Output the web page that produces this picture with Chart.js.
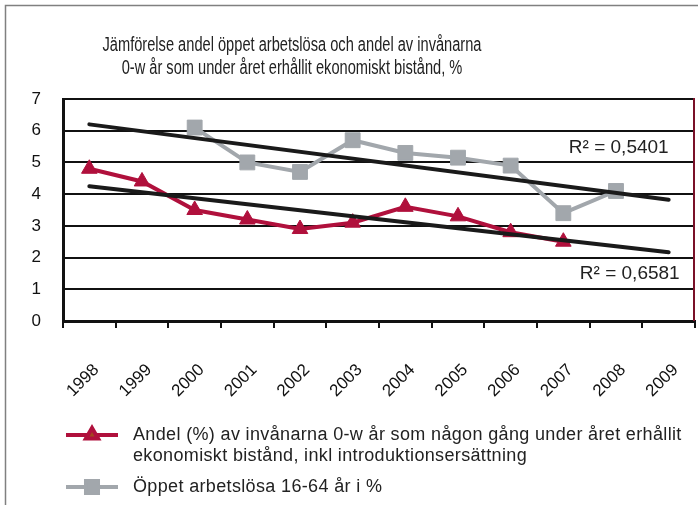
<!DOCTYPE html>
<html>
<head>
<meta charset="utf-8">
<script src="https://cdn.jsdelivr.net/npm/chart.js@4.4.1/dist/chart.umd.min.js"></script>
<style>
  html, body { margin: 0; padding: 0; background: #fff; }
  #wrap { width: 698px; height: 505px; position: relative; }
</style>
</head>
<body>
<div id="wrap"><canvas id="chart" width="698" height="505"></canvas></div>
<script>
// Data
const years = ['1998', '1999', '2000', '2001', '2002', '2003', '2004', '2005', '2006', '2007', '2008', '2009'];
const andelBistand = [4.8, 4.4, 3.5, 3.2, 2.9, 3.1, 3.6, 3.3, 2.8, 2.5, null, null];
const arbetslosa = [null, null, 6.1, 5.0, 4.7, 5.7, 5.3, 5.15, 4.9, 3.4, 4.1, null];
// linear trend lines (end points as seen in the picture)
const trendBistand = [4.25, null, null, null, null, null, null, null, null, null, null, 2.17];
const trendArbetslosa = [6.2, null, null, null, null, null, null, null, null, null, null, 3.82];
const r2Texts = ['R² = 0,5401', 'R² = 0,6581'];
const r2Values = [5.45, 1.5];
const titleLines = ['Jämförelse andel öppet arbetslösa och andel av invånarna', '0-w år som under året erhållit ekonomiskt bistånd, %'];
const legendBistand = ['Andel (%) av invånarna 0-w år som någon gång under året erhållit', 'ekonomiskt bistånd, inkl introduktionsersättning'];
const legendArbetslosa = ['Öppet arbetslösa 16-64 år i %'];

const RED = '#b0103c';
const GREY = '#a2a7ac';
const FONT = "'Liberation Sans', Arial, sans-serif";

// title, frame, R² labels and the two-line legend are drawn by hand
const extras = {
    id: 'extras',
    beforeDraw(chart) {
        const ctx = chart.ctx;
        ctx.save();
        ctx.fillStyle = '#fff';
        ctx.fillRect(0, 0, chart.width, chart.height);
        ctx.strokeStyle = '#808080';
        ctx.lineWidth = 1.5;
        ctx.beginPath();
        ctx.moveTo(5.5, chart.height);
        ctx.lineTo(5.5, 5.5);
        ctx.lineTo(chart.width, 5.5);
        ctx.stroke();
        ctx.restore();
    },
    afterDraw(chart) {
        const ctx = chart.ctx;
        const area = chart.chartArea;
        const x = chart.scales.x, y = chart.scales.y;
        ctx.save();

        // right border of the plot area
        ctx.strokeStyle = '#7a1028';
        ctx.lineWidth = 2;
        ctx.beginPath();
        ctx.moveTo(area.right - 1, area.top - 1);
        ctx.lineTo(area.right - 1, area.bottom);
        ctx.stroke();

        // title, squeezed like the narrow font in the original
        ctx.fillStyle = '#222';
        ctx.textAlign = 'center';
        ctx.textBaseline = 'middle';
        ctx.font = '20px ' + FONT;
        const squeeze = 379 / ctx.measureText(titleLines[0]).width;
        titleLines.forEach((t, i) => {
            ctx.save();
            ctx.translate(292, 45 + i * 23);
            ctx.scale(squeeze, 1);
            ctx.fillText(t, 0, 0);
            ctx.restore();
        });

        // R² labels
        ctx.font = '19px ' + FONT;
        ctx.textAlign = 'right';
        ctx.fillText(r2Texts[0], x.getPixelForValue(11), y.getPixelForValue(r2Values[0]));
        ctx.fillText(r2Texts[1], x.getPixelForValue(11) + 11, y.getPixelForValue(r2Values[1]));

        // legend
        const entries = [
            { lines: legendBistand, ds: chart.data.datasets[0], y: 435, fill: '#a3461f', r: 7 },
            { lines: legendArbetslosa, ds: chart.data.datasets[1], y: 487, fill: GREY, r: 8.5 }
        ];
        ctx.font = '18px ' + FONT;
        ctx.textAlign = 'left';
        ctx.letterSpacing = '0.35px';
        entries.forEach(e => {
            ctx.strokeStyle = e.ds.borderColor;
            ctx.lineWidth = 4;
            ctx.beginPath();
            ctx.moveTo(66, e.y);
            ctx.lineTo(118, e.y);
            ctx.stroke();
            ctx.fillStyle = e.fill;
            ctx.strokeStyle = e.ds.borderColor;
            Chart.helpers.drawPoint(ctx, {
                pointStyle: e.ds.pointStyle, radius: e.r, rotation: 0, borderWidth: 2
            }, 92, e.y);
            ctx.fillStyle = '#222';
            e.lines.forEach((t, i) => ctx.fillText(t, 133, e.y + i * 21));
        });
        ctx.restore();
    }
};

new Chart(document.getElementById('chart'), {
    type: 'line',
    data: {
        labels: years,
        datasets: [
            {
                label: legendBistand.join(' '),
                data: andelBistand,
                borderColor: RED,
                backgroundColor: RED,
                borderWidth: 4,
                pointStyle: 'triangle',
                pointRadius: 9,
                pointBorderWidth: 1,
                tension: 0,
                order: 2
            },
            {
                label: legendArbetslosa[0],
                data: arbetslosa,
                borderColor: GREY,
                backgroundColor: GREY,
                borderWidth: 4,
                pointStyle: 'rect',
                pointRadius: 10.5,
                pointBorderWidth: 1,
                tension: 0,
                order: 3
            },
            {
                label: 'trend bistand',
                data: trendBistand,
                borderColor: '#1a1a1a',
                borderWidth: 4,
                pointRadius: 0,
                spanGaps: true,
                borderCapStyle: 'round',
                order: 1
            },
            {
                label: 'trend arbetslosa',
                data: trendArbetslosa,
                borderColor: '#1a1a1a',
                borderWidth: 4,
                pointRadius: 0,
                spanGaps: true,
                borderCapStyle: 'round',
                order: 1
            }
        ]
    },
    options: {
        responsive: false,
        animation: false,
        devicePixelRatio: 1,
        layout: { autoPadding: false, padding: { top: 99, right: 3, bottom: 0, left: 0 } },
        plugins: {
            legend: { display: false },
            title: { display: false },
            tooltip: { enabled: false }
        },
        scales: {
            x: {
                offset: true,
                afterFit(scale) {
                    // keep the plot area where the original has it; legend lives below
                    scale.height = 184;
                    scale.paddingLeft = 0;
                    scale.paddingRight = 0;
                },
                grid: {
                    offset: true,
                    drawOnChartArea: false,
                    drawTicks: true,
                    tickLength: 7,
                    color: '#111',
                    lineWidth: 2
                },
                border: { color: '#111', width: 3 },
                ticks: {
                    color: '#111',
                    font: { family: FONT, size: 17 },
                    maxRotation: 45,
                    minRotation: 45,
                    padding: 32,
                    labelOffset: 7,
                    autoSkip: false
                }
            },
            y: {
                min: 0,
                max: 7,
                afterFit(scale) {
                    scale.width = 63;
                    scale.paddingTop = 0;
                    scale.paddingBottom = 0;
                },
                grid: { color: '#111', lineWidth: 2, drawTicks: false },
                border: { color: '#111', width: 3 },
                ticks: {
                    stepSize: 1,
                    color: '#111',
                    font: { family: FONT, size: 17 },
                    padding: 22
                }
            }
        }
    },
    plugins: [extras]
});
</script>
</body>
</html>
